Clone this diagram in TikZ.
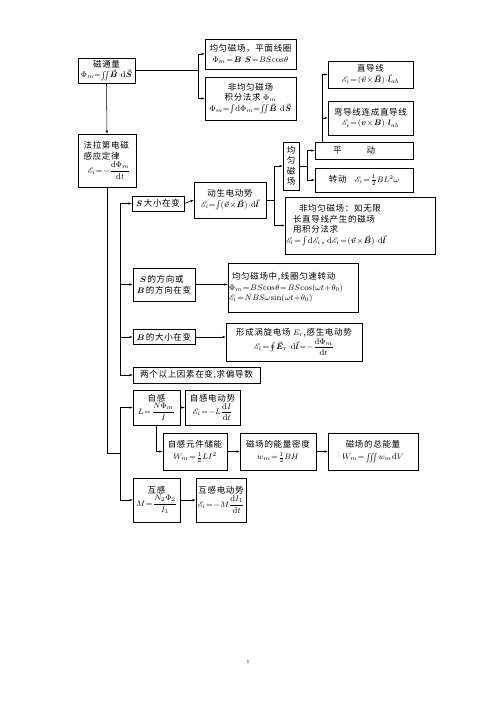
\documentclass[tikz,border=0pt]{standalone}
\usepackage{amsmath,amssymb,mathrsfs}
\usepackage{fontspec}
\newfontfamily\cjk[LetterSpace=8]{Noto Sans CJK SC}
\usetikzlibrary{arrows.meta}
\newcommand{\vbf}[1]{\vec{\boldsymbol{#1}}}
\newcommand{\emf}{\mathscr{E}}
\newcommand{\dd}{\mathrm{d}}
\newcommand{\tight}{\thickmuskip=1.5mu\medmuskip=1mu\thinmuskip=1mu}
\begin{document}
\begin{tikzpicture}[x=1pt,y=-1pt,
  bx/.style={draw, line width=0.8pt, inner sep=1pt, align=center, font=\cjk\fontsize{8.5}{10.5}\selectfont\tight},
  ln/.style={line width=0.55pt},
  arr/.style={ln,-{Stealth[length=3.5pt,width=2.4pt]}},
]
\useasboundingbox (0,0) rectangle (496,702);
% boxes
\node[bx,minimum width=57pt,minimum height=25pt] (A) at (106.5,70.5) {磁通量\\$\Phi_m{=}\!\iint\!\vbf{B}\cdot\dd\vbf{S}$};
\node[bx,minimum width=91pt,minimum height=30pt] (B) at (250.5,54) {均匀磁场，平面线圈\\$\Phi_m=\boldsymbol B\cdot\boldsymbol S=BS\cos\theta$};
\node[bx,minimum width=91pt,minimum height=43pt] (C) at (250.5,98.5) {非均匀磁场\\积分法求 $\Phi_m$\\$\Phi_m{=}\!\int\!\dd\Phi_m{=}\!\iint\!\vbf{B}\cdot\dd\vbf{S}$};
\node[bx,minimum width=85pt,minimum height=27pt] (D) at (370.5,74.5) {直导线\\$\emf_i=(\vbf{v}\times\vbf{B})\cdot\vbf{l}_{ab}$};
\node[bx,minimum width=85pt,minimum height=34pt] (E) at (370.5,118) {弯导线连成直导线\\$\emf_i=(\boldsymbol v\times\boldsymbol B)\cdot\boldsymbol l_{ab}$};
\node[bx,align=left,minimum width=58pt,minimum height=53pt] (F) at (107,160.5) {法拉第电磁\\感应定律\\[1pt]\hspace*{4pt}$\emf_i=-\dfrac{\dd\Phi_m}{\dd t}$};
\node[bx,inner sep=0pt,minimum width=16pt,minimum height=48pt] (G) at (291,166) {均\\匀\\磁\\场};
\node[bx,minimum width=98pt,minimum height=17pt] (H) at (364,150.5) {平\hspace{25pt}动\hspace{20pt}};
\node[bx,minimum width=98pt,minimum height=24pt] (I) at (364,180) {转动\quad$\emf_i=\frac{1}{2}BL^2\omega$};
\node[bx,minimum width=52pt,minimum height=15pt] (J) at (158,203.5) {$\boldsymbol S$\,大小在变};
\node[bx,minimum width=72pt,minimum height=36pt] (K) at (230,200) {动生电动势\\$\emf_i{=}\!\int\!(\vbf{v}\times\vbf{B})\cdot\dd\vbf{l}$};
\node[bx,align=left,text width=148pt,minimum height=57pt] (L) at (360,225.5) {\hspace*{13pt}非均匀磁场：如无限\\\hspace*{7pt}长直导线产生的磁场\\\hspace*{7pt}用积分法求\\$\emf_i=\int\dd\emf_i$\,, $\dd\emf_i=(\vbf{v}\times\vbf{B})\cdot\dd\vbf{l}$};
\node[bx,align=left,minimum width=62pt,minimum height=33pt] (M) at (164,284.5) {\hspace*{3pt}$\boldsymbol S$\,的方向或\\$\boldsymbol B$\,的方向在变};
\node[bx,align=left,text width=128pt,minimum height=49pt] (N) at (293,287.5) {\hspace*{3pt}均匀磁场中,线圈匀速转动\\$\Phi_m=BS\cos\theta=BS\cos(\omega t+\theta_0)$\\$\emf_i=NBS\omega\sin(\omega t+\theta_0)$};
\node[bx,minimum width=62pt,minimum height=15pt] (O) at (164,337) {$\boldsymbol B$\,的大小在变};
\node[bx,minimum width=136pt,minimum height=38pt] (P) at (294,342) {形成涡旋电场 $E_r$,感生电动势\\$\emf_i=\oint\vbf{E}_r\cdot\dd\vbf{l}=-\dfrac{\dd\Phi_m}{\dd t}$};
\node[bx,minimum width=127pt,minimum height=16pt] (Q) at (196.5,375) {两个以上因素在变,求偏导数};
\node[bx,minimum width=47pt,minimum height=35pt] (R) at (156.5,407.5) {自感\\$L=\dfrac{N\Phi_m}{I}$};
\node[bx,align=left,minimum width=55pt,minimum height=35pt] (S) at (212.5,407.5) {自感电动势\\\hspace*{3pt}$\emf_i=-L\dfrac{\dd I}{\dd t}$};
\node[bx,minimum width=64pt,minimum height=37pt] (T) at (195,451.5) {自感元件储能\\[2pt]$W_m=\frac{1}{2}LI^2$};
\node[bx,minimum width=76pt,minimum height=37pt] (U) at (278,451.5) {磁场的能量密度\\[2pt]$w_m=\frac{1}{2}BH$};
\node[bx,minimum width=90pt,minimum height=37pt] (V) at (373,451.5) {磁场的总能量\\[2pt]$W_m=\iiint w_m\,\dd V$};
\node[bx,minimum width=47pt,minimum height=44pt] (W) at (156.5,500) {互感\\$M=\dfrac{N_2\Phi_2}{I_1}$};
\node[bx,minimum width=50pt,minimum height=44pt] (X) at (221,500) {互感电动势\\$\emf_i=-M\dfrac{\dd I_1}{\dd t}$};
\node[font=\fontsize{5}{6}\selectfont] (pg) at (248,662) {1};
% connectors
\coordinate (jA) at (198,70.5);
\draw[ln] (A.east) -- (jA);
\draw[arr] (jA) |- (B.west);
\draw[arr] (jA) |- (C.west);
\draw[arr] (A.south) -- (F.north);
\coordinate (jF) at (120,453);
\draw[ln] (F.south) |- (jF);
\draw[arr] (jF) |- (R.west);
\draw[arr] (jF) |- (W.west);
\coordinate (jT) at (120,203.5);
\coordinate (jB) at (120,375);
\draw[arr] (jB) |- (jT) -- (J.west);
\draw[arr] (M.west -| jT) -- (M.west);
\draw[arr] (O.west -| jT) -- (O.west);
\draw[arr] (jB) -- (Q.west);
\draw[arr] (J.east) -- (K.west);
\coordinate (jK) at (274,200);
\draw[ln] (K.east) -- (jK);
\draw[arr] (jK) |- (G.west);
\draw[arr] (jK) |- (L.west);
\coordinate (jG) at (307,166);
\draw[ln] (G.east) -- (jG);
\draw[arr] (jG) |- (H.west);
\draw[arr] (jG) |- (I.west);
\coordinate (hT) at (322,142);
\draw[arr] (hT) |- (D.west);
\draw[arr] (hT |- E.west) -- (E.west);
\draw[arr] (M.east) -- (M.east -| N.west);
\draw[arr] (O.east) -- (O.east -| P.west);
\draw[arr] (R.east) -- (S.west);
\draw[arr] (R.south) |- (T.west);
\draw[arr] (T.east) -- (U.west);
\draw[arr] (U.east) -- (V.west);
\draw[arr] (W.east) -- (X.west);
\end{tikzpicture}
\end{document}
